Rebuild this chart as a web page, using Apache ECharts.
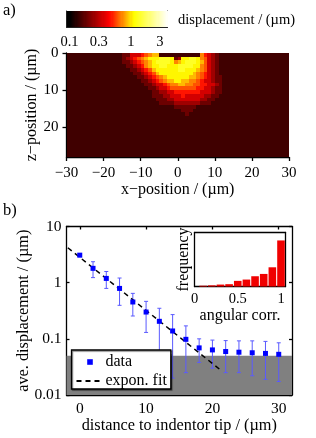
<!DOCTYPE html>
<html><head><meta charset="utf-8">
<style>html,body{margin:0;padding:0;background:#fff}#c{width:316px;height:438px;filter:blur(0.3px)}</style>
<script src="https://cdn.jsdelivr.net/npm/echarts@6/dist/echarts.min.js"></script>
</head><body><div id="c"></div>
<script>
const FONT = '"Liberation Serif"';
// Panel a: displacement levels on a 1 µm grid; columns x = -16..11, rows z = 0..16
const heatRows = [
 "0113334567700000000000643210",
 "0123456788899981288998653210",
 "0112345678999986789998753210",
 "0011234678899888999988653210",
 "0001123457888888998887653210",
 "0000112345788888888876543210",
 "0000011234567888888776543211",
 "0000001123456778877665433211",
 "0000000112334566776655443321",
 "0000000011233455555554433211",
 "0000000001122334444444333211",
 "0000000001112233343333322110",
 "0000000000111223333333221100",
 "0000000000011112222222111000",
 "0000000000000001111110000000",
 "0000000000000000011100000000",
 "0000000000000000001000000000"
];
const heatStartX = -16;
const levelDisplacement = [0.145,0.187,0.25,0.338,0.47,0.587,0.70,0.85,1.06,1.32];
const heatXTicks = [-30,-20,-10,0,10,20,30];
const heatZTicks = [0,10,20];
const barTickValues = [0.1,0.3,1,3];
// Panel b
const distance = [0,2,4,6,8,10,12,14,16,18,20,22,24,26,28,30];
const avgDisp = [3.09,1.8,1.19,0.79,0.453,0.30,0.205,0.138,0.098,0.069,0.0635,0.0594,0.0578,0.0565,0.055,0.053];
const errHigh = [3.3,2.36,1.58,1.21,0.645,0.465,0.35,0.27,0.17,0.10,0.095,0.093,0.092,0.092,0.09,0.085];
const errLow  = [2.9,1.23,0.79,0.395,0.255,0.13,0.03,0.02,0.025,0.038,0.03,0.025,0.025,0.022,0.019,0.0174];
const fitX = [-1.8,21.5];
const fitY = [4.18,0.0263];
const noiseFloor = 0.05;
const mainXTicks = [0,10,20,30];
// Inset
const corrBins = [0.1,0.2,0.3,0.4,0.5,0.6,0.7,0.8,0.9,1.0];
const corrFreq = [0.1,0.15,0.25,0.3,0.73,0.9,1.33,1.63,2.49,5.97];

function hot(logv){
  const t=Math.max(0,Math.min(1,(logv+1)/1.6));
  let r,g,b;
  if(t<0.4){r=t/0.4;g=0;b=0}else if(t<0.65){r=1;g=(t-0.4)/0.25;b=0}else{r=1;g=1;b=(t-0.65)/0.35}
  return 'rgb('+[r,g,b].map(c=>Math.round(c*255)).join(',')+')';
}
const cells=[];
for(let x=-30;x<30;x++)for(let z=0;z<28;z++){
  const row=heatRows[z]; const i=x-heatStartX;
  const lvl=(row&&i>=0&&i<row.length)?+row[i]:0;
  cells.push([x,z,levelDisplacement[lvl]]);
}
const ramp=[];for(let i=0;i<90;i++)ramp.push(-1.05+i*(1.65/90));

const lbl=(s)=>({fontFamily:FONT,fontSize:s,color:'#000'});
const line={lineStyle:{color:'#000',width:1.3}};
const thin={lineStyle:{color:'#222',width:1}};
const minus=v=>String(v).replace('-','\u2212');
const snapRect=(a,b,c)=>{
  const x0=Math.round(Math.min(a[0],b[0])),x1=Math.round(Math.max(a[0],b[0]));
  const y0=Math.round(Math.min(a[1],b[1])),y1=Math.round(Math.max(a[1],b[1]));
  return {type:'rect',shape:{x:x0,y:y0,width:x1-x0,height:y1-y0},style:{fill:c}};
};

const option={
 animation:false,
 textStyle:{fontFamily:FONT},
 title:[
  {text:'a)',left:3,top:2,textStyle:{...lbl(16.5),fontWeight:'normal'},padding:0},
  {text:'b)',left:3,top:202,textStyle:{...lbl(16.5),fontWeight:'normal'},padding:0},
  {text:'displacement / (\u00b5m)',left:178,top:13,textStyle:{...lbl(14.5),fontWeight:'normal'},padding:0}
 ],
 grid:[
  {left:66.5,top:53,width:222.5,height:104},
  {left:66.5,top:11,width:101,height:16},
  {left:66.5,top:226.5,width:225.5,height:168.5},
  {left:194.5,top:232.5,width:91,height:54,show:true,backgroundColor:'#fff',borderWidth:0}
 ],
 xAxis:[
  {gridIndex:0,type:'value',min:-30,max:30,interval:10,splitLine:{show:false},
   axisLine:{show:true,onZero:false,...line},axisTick:{length:4,inside:false,...line,customValues:heatXTicks},
   axisLabel:{...lbl(15),margin:9,formatter:minus,customValues:heatXTicks},
   name:'x\u2212position / (\u00b5m)',nameLocation:'middle',nameGap:20,nameTextStyle:lbl(16)},
  {gridIndex:1,type:'value',min:-1.05,max:0.6,splitLine:{show:false},
   axisLine:{show:true,onZero:false,...thin},axisTick:{length:2,inside:true,...thin,customValues:barTickValues.map(Math.log10)},
   axisLabel:{...lbl(14.5),margin:8,customValues:barTickValues.map(Math.log10),formatter:v=>String(+Math.pow(10,v).toFixed(1))}},
  {gridIndex:2,type:'value',min:-2,max:32,splitLine:{show:false},
   axisLine:{show:true,onZero:false,...line},axisTick:{length:3,inside:true,...line,customValues:mainXTicks},
   axisLabel:{...lbl(15.5),margin:6,customValues:mainXTicks},
   name:'distance to indentor tip / (\u00b5m)',nameLocation:'middle',nameGap:20,nameTextStyle:lbl(16.3)},
  {gridIndex:2,type:'value',position:'top',min:-2,max:32,splitLine:{show:false},
   axisLine:{show:true,onZero:false,...line},axisTick:{length:3,inside:true,...line,customValues:mainXTicks},axisLabel:{show:false}},
  {gridIndex:3,type:'value',min:0,max:1.052,splitLine:{show:false},
   axisLine:{show:true,onZero:false,...line},axisTick:{show:false},
   axisLabel:{...lbl(14.5),margin:5,customValues:[0,0.5,1]},
   name:'angular corr.',nameLocation:'middle',nameGap:21,nameTextStyle:lbl(16)},
  {gridIndex:3,type:'value',position:'top',min:0,max:1.052,splitLine:{show:false},
   axisLine:{show:true,onZero:false,...line},axisTick:{show:false},axisLabel:{show:false}},
  {gridIndex:1,type:'value',position:'top',min:-1.05,max:0.6,splitLine:{show:false},
   axisLine:{show:true,onZero:false,...thin},axisTick:{length:2,inside:true,...thin,customValues:barTickValues.map(Math.log10)},axisLabel:{show:false}}
 ],
 yAxis:[
  {gridIndex:0,type:'value',inverse:true,min:0,max:28,interval:10,splitLine:{show:false},
   axisLine:{show:true,onZero:false,...line},axisTick:{length:4,...line,customValues:heatZTicks},
   axisLabel:{...lbl(15),margin:8,customValues:heatZTicks},
   name:'z\u2212position / (\u00b5m)',nameLocation:'middle',nameMoveOverlap:false,nameGap:27,nameTextStyle:lbl(16)},
  {gridIndex:1,type:'value',min:0,max:1,splitLine:{show:false},
   axisLine:{show:true,onZero:false,...thin},axisTick:{show:false},axisLabel:{show:false}},
  {gridIndex:2,type:'log',min:0.01,max:10,logBase:10,splitLine:{show:false},
   axisLine:{show:true,onZero:false,...line},axisTick:{length:3,inside:true,...line},
   axisLabel:{...lbl(15.5),margin:5},
   name:'ave. displacement / (\u00b5m)',nameLocation:'middle',nameMoveOverlap:false,nameGap:35,nameTextStyle:lbl(16.3)},
  {gridIndex:2,type:'log',position:'right',min:0.01,max:10,logBase:10,splitLine:{show:false},
   axisLine:{show:true,onZero:false,...line},axisTick:{length:3,inside:true,...line},axisLabel:{show:false}},
  {gridIndex:3,type:'value',min:0,max:7,splitLine:{show:false},
   axisLine:{show:true,onZero:false,...line},axisTick:{show:false},axisLabel:{show:false},
   name:'frequency',nameLocation:'middle',nameGap:3,nameTextStyle:lbl(16)},
  {gridIndex:3,type:'value',position:'right',min:0,max:7,splitLine:{show:false},
   axisLine:{show:true,onZero:false,...line},axisTick:{show:false},axisLabel:{show:false}},
  {gridIndex:1,type:'value',position:'right',min:0,max:1,splitLine:{show:false},
   axisLine:{show:true,onZero:false,...thin},axisTick:{show:false},axisLabel:{show:false}}
 ],
 legend:{
  left:71.5,top:350,orient:'vertical',z:20,
  backgroundColor:'#fff',borderColor:'#000',borderWidth:1.3,padding:[4,4,0,4],
  itemWidth:27,itemHeight:7,itemGap:3,
  shadowColor:'rgba(0,0,0,0.5)',shadowOffsetX:1,shadowOffsetY:1,shadowBlur:1,
  data:[{name:'data'},{name:'expon. fit',itemStyle:{opacity:0}}],
  textStyle:{...lbl(16),padding:[0,0,0,-3]}
 },
 series:[
  {type:'custom',xAxisIndex:0,yAxisIndex:0,coordinateSystem:'cartesian2d',silent:true,z:1,clip:true,data:cells,
   renderItem(p,api){
     const a=api.coord([api.value(0),api.value(1)]),b=api.coord([api.value(0)+1,api.value(1)+1]);
     return snapRect(a,b,hot(Math.log10(api.value(2))));
   }},
  {type:'custom',xAxisIndex:1,yAxisIndex:1,coordinateSystem:'cartesian2d',silent:true,z:1,data:ramp.map(v=>[v,0]),
   renderItem(p,api){
     const v=api.value(0);
     return snapRect(api.coord([v,1]),api.coord([v+1.65/90,0]),hot(v));
   }},
  {type:'custom',name:'floor',xAxisIndex:2,yAxisIndex:2,coordinateSystem:'cartesian2d',silent:true,z:1,data:[[-2,noiseFloor]],
   renderItem(p,api){
     const a=api.coord([-2,api.value(1)]),b=api.coord([32,0.01]);
     return {type:'rect',shape:{x:a[0],y:a[1],width:b[0]-a[0],height:b[1]-a[1]},style:{fill:'#808080'}};
   }},
  {type:'custom',name:'err',xAxisIndex:2,yAxisIndex:2,coordinateSystem:'cartesian2d',silent:true,z:3,
   data:distance.map((d,i)=>[d,errLow[i],errHigh[i]]),
   renderItem(p,api){
     const x=api.value(0),l=api.coord([x,api.value(1)]),h=api.coord([x,api.value(2)]);
     const st={stroke:'#5a5aff',lineWidth:1,fill:'none'};
     return {type:'group',children:[
       {type:'line',shape:{x1:l[0],y1:l[1],x2:h[0],y2:h[1]},style:st},
       {type:'line',shape:{x1:l[0]-2,y1:l[1],x2:l[0]+2,y2:l[1]},style:st},
       {type:'line',shape:{x1:h[0]-2,y1:h[1],x2:h[0]+2,y2:h[1]},style:st}]};
   }},
  {type:'line',name:'expon. fit',xAxisIndex:2,yAxisIndex:2,z:4,showSymbol:false,symbol:'none',
   data:fitX.map((x,i)=>[x,fitY[i]]),lineStyle:{color:'#000',width:1.5,type:[5,4]},itemStyle:{color:'#000'}},
  {type:'line',name:'data',xAxisIndex:2,yAxisIndex:2,z:5,symbol:'rect',symbolSize:5,
   data:distance.map((x,i)=>[x,avgDisp[i]]),lineStyle:{opacity:0,width:0},itemStyle:{color:'#0000ff'}},
  {type:'bar',xAxisIndex:4,yAxisIndex:4,z:5,barWidth:7.6,data:corrBins.map((x,i)=>[x,corrFreq[i]]),itemStyle:{color:'#f00000'}}
 ]
};
echarts.init(document.getElementById('c')).setOption(option);
</script></body></html>
